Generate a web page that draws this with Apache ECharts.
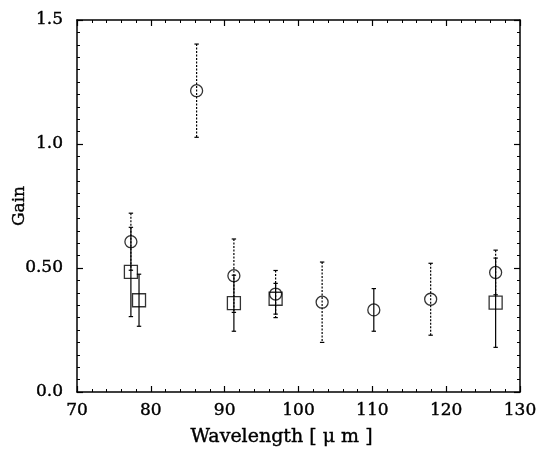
<!DOCTYPE html>
<html>
<head>
<meta charset="utf-8">
<script src="https://cdn.jsdelivr.net/npm/echarts@6/dist/echarts.min.js"></script>
<style>html,body{margin:0;padding:0;background:#fff}#c{width:537px;height:451px}</style>
</head>
<body>
<div id="c"></div>
<script>
// Circles (dotted error bars)
var circleX   = [77.3, 86.2, 91.25, 96.9, 103.2, 110.2, 117.9, 126.7];
var circleY   = [0.606, 1.215, 0.469, 0.395, 0.362, 0.331, 0.374, 0.482];
var circleErr = [0.115, 0.188, 0.148, 0.095, 0.162, 0.086, 0.145, 0.09];
// Squares (solid error bars)
var squareX   = [77.3, 78.4, 91.25, 96.9, 126.7];
var squareY   = [0.484, 0.370, 0.358, 0.376, 0.36];
var squareErr = [0.18, 0.105, 0.113, 0.062, 0.18];
var SOLID_CIRCLE_BAR = 5; // the 110 µm point has a solid bar

var xTicks = [70, 80, 90, 100, 110, 120, 130];
var yTickLabels = {'0': '0.0', '0.5': '0.50', '1': '1.0', '1.5': '1.5'};

var FONT = 'DejaVu Serif';
var TXT = {fontFamily: FONT, color: '#000', textBorderColor: '#000', textBorderWidth: 0.4};

function errData(xs, ys, es) {
  return xs.map(function (x, i) { return [x, ys[i] - es[i], ys[i] + es[i], i]; });
}
function errRender(dotted) {
  return function (params, api) {
    var x = api.value(0), lo = api.value(1), hi = api.value(2), idx = api.value(3);
    var p1 = api.coord([x, hi]), p2 = api.coord([x, lo]);
    var dash = (dotted && idx !== SOLID_CIRCLE_BAR) ? [2, 1.5] : null;
    var st = {stroke: '#000', lineWidth: 1.2, lineDash: dash};
    var cap = 2.2;
    return {
      type: 'group',
      children: [
        {type: 'line', shape: {x1: p1[0], y1: p1[1], x2: p2[0], y2: p2[1]}, style: st},
        {type: 'line', shape: {x1: p1[0] - cap, y1: p1[1], x2: p1[0] + cap, y2: p1[1]}, style: {stroke: '#000', lineWidth: 1.2}},
        {type: 'line', shape: {x1: p2[0] - cap, y1: p2[1], x2: p2[0] + cap, y2: p2[1]}, style: {stroke: '#000', lineWidth: 1.2}}
      ]
    };
  };
}

var axisLine = {show: true, onZero: false, lineStyle: {color: '#000', width: 1.5}};
var axisTick = {show: true, inside: true, length: 6, lineStyle: {color: '#000', width: 1.2}};
function minor(n) { return {show: true, splitNumber: n, length: 3, lineStyle: {color: '#000', width: 1}}; }

var chart = echarts.init(document.getElementById('c'), null, {renderer: 'canvas'});
chart.setOption({
  backgroundColor: '#fff',
  animation: false,
  grid: {left: 77, right: 17, top: 20, bottom: 59, containLabel: false, outerBoundsMode: 'none'},
  xAxis: [
    {
      type: 'value', min: 70, max: 130, interval: 10,
      name: 'Wavelength [ μ m ]', nameLocation: 'middle', nameGap: 36, nameMoveOverlap: false,
      nameTextStyle: Object.assign({fontSize: 19, padding: [0, 34, 0, 0]}, TXT),
      axisLabel: Object.assign({fontSize: 17, margin: 10,
        formatter: function (v) { return xTicks.indexOf(v) >= 0 ? String(v) : ''; }}, TXT),
      axisLine: axisLine, axisTick: axisTick, minorTick: minor(5), splitLine: {show: false}
    },
    {
      type: 'value', min: 70, max: 130, interval: 10, position: 'top',
      axisLine: axisLine, axisTick: axisTick, minorTick: minor(5),
      axisLabel: {show: false}, splitLine: {show: false}
    }
  ],
  yAxis: [
    {
      type: 'value', min: 0, max: 1.5, interval: 0.5,
      name: 'Gain', nameLocation: 'middle', nameGap: 49, nameRotate: 90, nameMoveOverlap: false,
      nameTextStyle: Object.assign({fontSize: 17}, TXT),
      axisLabel: Object.assign({fontSize: 17, margin: 14,
        formatter: function (v) { var k = String(+v.toFixed(2)); return yTickLabels[k] || ''; }}, TXT),
      axisLine: axisLine, axisTick: axisTick, minorTick: minor(10), splitLine: {show: false}
    },
    {
      type: 'value', min: 0, max: 1.5, interval: 0.5, position: 'right',
      axisLine: axisLine, axisTick: axisTick, minorTick: minor(10),
      axisLabel: {show: false}, splitLine: {show: false}
    }
  ],
  series: [
    {
      type: 'custom', xAxisIndex: 0, yAxisIndex: 0,
      renderItem: errRender(true),
      encode: {x: 0, y: [1, 2]},
      data: errData(circleX, circleY, circleErr), z: 2
    },
    {
      type: 'custom', xAxisIndex: 0, yAxisIndex: 0,
      renderItem: errRender(false),
      encode: {x: 0, y: [1, 2]},
      data: errData(squareX, squareY, squareErr), z: 2
    },
    {
      type: 'scatter', symbol: 'circle', symbolSize: 12,
      itemStyle: {color: 'rgba(255,255,255,0)', borderColor: '#000', borderWidth: 1.3},
      data: circleX.map(function (x, i) { return [x, circleY[i]]; }), z: 3
    },
    {
      type: 'scatter', symbol: 'rect', symbolSize: 13,
      itemStyle: {color: 'rgba(255,255,255,0)', borderColor: '#000', borderWidth: 1.3},
      data: squareX.map(function (x, i) { return [x, squareY[i]]; }), z: 3
    }
  ]
});
</script>
</body>
</html>
